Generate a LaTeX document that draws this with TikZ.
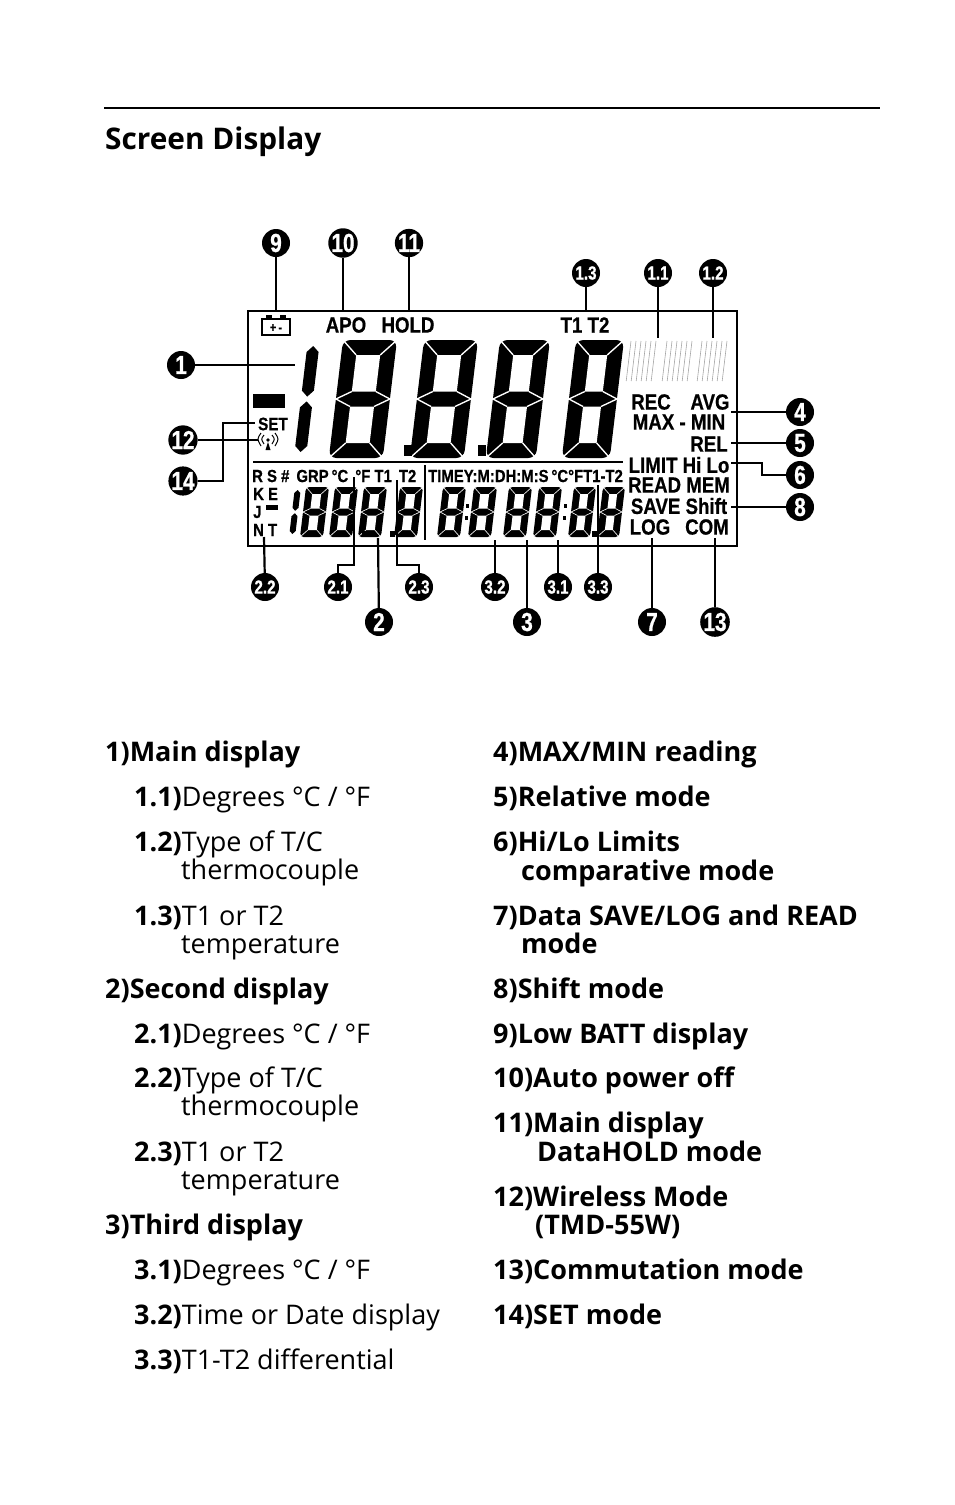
\documentclass[tikz,border=0pt]{standalone}
\usepackage{fontspec}
\setmainfont{Open Sans}
\newfontfamily\lcd{Liberation Sans Bold}[FakeStretch=0.85,FakeBold=0.6]
\newfontfamily\callf{Liberation Sans Bold}[FakeStretch=0.8,FakeBold=0.8]
\newcommand\vseg[4]{\fill (#1,#2) -- ({#1+#4/2},{#2+#4/2}) -- ({#1+#4/2},{#3-#4/2}) -- (#1,#3) -- ({#1-#4/2},{#3-#4/2}) -- ({#1-#4/2},{#2+#4/2}) -- cycle;}
% digit: left(top) y w h t
\newcommand\digit[5]{%
\begin{scope}[shift={(#1,#2)},xslant=0.12]
\pgfmathsetmacro\dw{#3}\pgfmathsetmacro\dh{#4}\pgfmathsetmacro\dt{#5}
\pgfmathsetmacro\da{\dh/2}\pgfmathsetmacro\db{\dt/2}
\fill[rounded corners=#5*0.5] (0,0) rectangle (\dw,\dh);
\fill[white] (\dt,\dt) rectangle (\dw-\dt,\da-\db);
\fill[white] (\dt,\da+\db) rectangle (\dw-\dt,\dh-\dt);
\begin{scope}[white,line width=#5*0.09]
\draw (0,0) -- (\dt,\dt); \draw (\dw,0) -- (\dw-\dt,\dt);
\draw (0,\dh) -- (\dt,\dh-\dt); \draw (\dw,\dh) -- (\dw-\dt,\dh-\dt);
\draw (0,\da) -- (\dt,\da-\db); \draw (0,\da) -- (\dt,\da+\db);
\draw (\dw,\da) -- (\dw-\dt,\da-\db); \draw (\dw,\da) -- (\dw-\dt,\da+\db);
\draw (-1,\da) -- (0,\da); \draw (\dw,\da) -- (\dw+1,\da);
\end{scope}
\end{scope}}
\newcommand\onedig[4]{% x y h t
\begin{scope}[shift={(#1,#2)},xslant=0.12]
\pgfmathsetmacro\dh{#3}\pgfmathsetmacro\dt{#4}\pgfmathsetmacro\dg{#4*0.2}
\vseg{0}{\dt/2}{\dh/2-\dg}{\dt}
\vseg{0}{\dh/2+\dg}{\dh-\dt/2}{\dt}
\end{scope}}
\newcommand\dotmat[2]{%
\begin{scope}[shift={(#1,#2)},xslant=0.12,draw=black!35,line width=0.6pt]
\draw (0,0) grid[xstep=5,ystep=5] (25,40);
\end{scope}}
\tikzset{
 call/.style={circle,fill=black,text=white,minimum size=28pt,inner sep=0pt,font=\callf\fontsize{26}{26}\selectfont},
 calls/.style={call,font=\callf\fontsize{19}{19}\selectfont},
 lead/.style={line width=2.2pt},
 lab/.style={inner sep=0pt,font=\lcd\fontsize{22}{22}\selectfont},
 labs/.style={inner sep=0pt,font=\lcd\fontsize{17.5}{17.5}\selectfont},
 itm/.style={anchor=base west,inner sep=0pt,font=\fontsize{27}{27}\selectfont}
}
\begin{document}
\begin{tikzpicture}[x=1pt,y=-1pt]
\useasboundingbox (0,0) rectangle (954,1505);
\draw[line width=1.6pt] (104,108) -- (880,108);
\node[itm,font=\bfseries\fontsize{29.8}{29.8}\selectfont] (title) at (105,149) {Screen Display};
% LCD
\draw[line width=2.2pt] (248,311) rectangle (737,546);
\draw[line width=1.2pt] (253,462) -- (623,462);
\draw[line width=1.2pt] (425,465) -- (425,540);
% battery
\draw[line width=1.8pt] (262,319) rectangle (290,335);
\fill (266,315) rectangle (272,319); \fill (280,315) rectangle (286,319);
\node[font=\lcd\fontsize{13}{13}\selectfont,inner sep=0] (batt) at (276,328) {+\,-};
\node[lab] (apo) at (346,325) {APO};
\node[lab] (hold) at (408,325) {HOLD};
\node[lab] (t1t2) at (585,325) {T1 T2};
% main digits
\onedig{314}{340}{118}{12}
\digit{343}{340}{54}{118}{15}
\digit{424}{340}{54}{118}{15}
\digit{500}{340}{50}{118}{15}
\digit{576}{340}{48}{118}{15}
\fill (404,445) rectangle (412,456);
\fill (478,445) rectangle (486,456);
\fill (253,394) rectangle (285,408);
% dot matrix
\dotmat{631}{341}\dotmat{667}{341}\dotmat{702}{341}
\node[lab,font=\lcd\fontsize{18}{18}\selectfont] (set) at (273,424) {SET};
\begin{scope}[line width=1pt]
\fill (268,440) circle (1.8);
\draw (264,435) .. controls (261,439) .. (264,444);
\draw (272,435) .. controls (275,439) .. (272,444);
\draw (261,433) .. controls (257,439) .. (261,446);
\draw (275,433) .. controls (279,439) .. (275,446);
\fill (265.5,450) -- (270.5,450) -- (268,442) -- cycle;
\end{scope}
\node[lab] (rec) at (651,402) {REC};
\node[lab] (avg) at (710,402) {AVG};
\node[lab] (maxmin) at (679,422) {MAX - MIN};
\node[lab] (rel) at (709,444) {REL};
\node[lab] (limit) at (679,465) {LIMIT Hi Lo};
\node[lab] (read) at (679,485) {READ MEM};
\node[lab] (save) at (679,506) {SAVE Shift};
\node[lab] (log) at (650,527) {LOG};
\node[lab] (com) at (707,527) {COM};
% second row
\node[labs,anchor=west] (row2) at (252,476) {R S \# \,GRP\,°C \,°F T1 \,T2};
\node[labs,anchor=west] (row3) at (428,476) {TIMEY:M:DH:M:S\,°C°FT1-T2};
\node[labs,anchor=west] (ke) at (253,494) {K E};
\node[labs,anchor=west] (jj) at (253,512) {J};
\node[labs,anchor=west] (nt) at (253,530) {N T};
\fill (266,505) rectangle (278,510);
\onedig{298}{487}{50}{6}
\digit{306}{487}{23}{50}{7}
\digit{335}{487}{23}{50}{7}
\digit{364}{487}{23}{50}{7}
\digit{400}{487}{23}{50}{7}
\fill (362,531) rectangle (367,537); \fill (390,531) rectangle (395,537);
\digit{443}{487}{23}{50}{7}
\digit{474}{487}{23}{50}{7}
\digit{509}{487}{23}{50}{7}
\digit{539}{487}{23}{50}{7}
\digit{574}{487}{22}{50}{7}
\digit{603}{487}{22}{50}{7}
\fill (466,504) rectangle (469,508); \fill (465,516) rectangle (468,520);
\fill (564,504) rectangle (567,508); \fill (563,516) rectangle (566,520);
\fill (592,531) rectangle (597,537);
% target coordinates
\coordinate (p9) at (276,311); \coordinate (p10) at (343,311); \coordinate (p11) at (409,311);
\coordinate (p13a) at (586,311); \coordinate (p11a) at (658,338); \coordinate (p12a) at (713,338);
\coordinate (p1) at (295,365); \coordinate (p4) at (731,412); \coordinate (p5) at (731,443);
\coordinate (p6) at (731,463); \coordinate (p8) at (731,507); \coordinate (p12) at (258,440);
\coordinate (p14) at (255,423); \coordinate (p22) at (264,537); \coordinate (p21) at (354,477);
\coordinate (p23) at (397,480); \coordinate (p2) at (378,538); \coordinate (p32) at (495,540);
\coordinate (p3) at (527,540); \coordinate (p31) at (558,540); \coordinate (p33) at (598,485);
\coordinate (p7) at (652,538); \coordinate (p13) at (715,538);
% callouts
\node[call] (c9) at (276,243) {9};
\node[call] (c10) at (343,243) {10};
\node[call] (c11) at (409,243) {11};
\node[calls] (c13a) at (586,273) {1.3};
\node[calls] (c11a) at (658,273) {1.1};
\node[calls] (c12a) at (713,273) {1.2};
\node[call] (c1) at (181,365) {1};
\node[call] (c4) at (800,412) {4};
\node[call] (c5) at (800,443) {5};
\node[call] (c6) at (800,475) {6};
\node[call] (c8) at (800,507) {8};
\node[call] (c12) at (183,440) {12};
\node[call] (c14) at (183,481) {14};
\node[calls] (c22) at (265,587) {2.2};
\node[calls] (c21) at (338,587) {2.1};
\node[calls] (c23) at (419,587) {2.3};
\node[calls] (c32) at (495,587) {3.2};
\node[calls] (c31) at (558,587) {3.1};
\node[calls] (c33) at (598,587) {3.3};
\node[call] (c2) at (379,622) {2};
\node[call] (c3) at (527,622) {3};
\node[call] (c7) at (652,622) {7};
\node[call] (c13) at (715,622) {13};
% leaders
\draw[lead] (c9) -- (p9); \draw[lead] (c10) -- (p10); \draw[lead] (c11) -- (p11);
\draw[lead] (c13a) -- (p13a); \draw[lead] (c11a) -- (p11a); \draw[lead] (c12a) -- (p12a);
\draw[lead] (c1) -- (p1);
\draw[lead] (c4) -- (p4); \draw[lead] (c5) -- (p5);
\draw[lead] (p6) -- (762,463) -- (762,475) -- (c6);
\draw[lead] (c8) -- (p8);
\draw[lead] (c12) -- (p12);
\draw[lead] (c14.east) -- (223,481) -- (223,423) -- (p14);
\draw[lead] (p22) -- (c22);
\draw[lead] (p21) -- (354,565) -- (338,565) -- (c21);
\draw[lead] (p23) -- (397,565) -- (419,565) -- (c23);
\draw[lead] (p2) -- (c2); \draw[lead] (p32) -- (c32); \draw[lead] (p3) -- (c3);
\draw[lead] (p31) -- (c31); \draw[lead] (p33) -- (c33);
\draw[lead] (p7) -- (c7); \draw[lead] (p13) -- (c13);
% list col 1
\node[itm] (l1) at (105,761) {\textbf{1)Main display}};
\node[itm] (l11) at (134,806) {\textbf{1.1)}Degrees °C / °F};
\node[itm] (l12) at (134,851) {\textbf{1.2)}Type of T/C};
\node[itm] (l12b) at (181,879) {thermocouple};
\node[itm] (l13) at (134,925) {\textbf{1.3)}T1 or T2};
\node[itm] (l13b) at (181,953) {temperature};
\node[itm] (l2) at (105,998) {\textbf{2)Second display}};
\node[itm] (l21) at (134,1043) {\textbf{2.1)}Degrees °C / °F};
\node[itm] (l22) at (134,1087) {\textbf{2.2)}Type of T/C};
\node[itm] (l22b) at (181,1115) {thermocouple};
\node[itm] (l23) at (134,1161) {\textbf{2.3)}T1 or T2};
\node[itm] (l23b) at (181,1189) {temperature};
\node[itm] (l3) at (105,1234) {\textbf{3)Third display}};
\node[itm] (l31) at (134,1279) {\textbf{3.1)}Degrees °C / °F};
\node[itm] (l32) at (134,1324) {\textbf{3.2)}Time or Date display};
\node[itm] (l33) at (134,1369) {\textbf{3.3)}T1-T2 differential};
% list col 2
\node[itm] (r4) at (493,761) {\textbf{4)MAX/MIN reading}};
\node[itm] (r5) at (493,806) {\textbf{5)Relative mode}};
\node[itm] (r6) at (493,851) {\textbf{6)Hi/Lo Limits}};
\node[itm] (r6b) at (521,880) {\textbf{comparative mode}};
\node[itm] (r7) at (493,925) {\textbf{7)Data SAVE/LOG and READ}};
\node[itm] (r7b) at (521,953) {\textbf{mode}};
\node[itm] (r8) at (493,998) {\textbf{8)Shift mode}};
\node[itm] (r9) at (493,1043) {\textbf{9)Low BATT display}};
\node[itm] (r10) at (493,1087) {\textbf{10)Auto power off}};
\node[itm] (r11) at (493,1132) {\textbf{11)Main display}};
\node[itm] (r11b) at (537,1161) {\textbf{DataHOLD mode}};
\node[itm] (r12) at (493,1206) {\textbf{12)Wireless Mode}};
\node[itm] (r12b) at (535,1234) {\textbf{(TMD-55W)}};
\node[itm] (r13) at (493,1279) {\textbf{13)Commutation mode}};
\node[itm] (r14) at (493,1324) {\textbf{14)SET mode}};
\end{tikzpicture}
\end{document}
